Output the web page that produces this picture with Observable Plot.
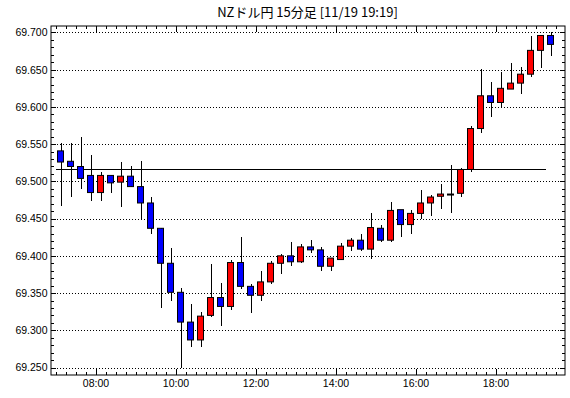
<!DOCTYPE html>
<html><head><meta charset="utf-8">
<script src="https://cdn.jsdelivr.net/npm/d3@7"></script>
<script src="https://cdn.jsdelivr.net/npm/@observablehq/plot@0.6"></script>
<style>
body{margin:0;background:#fff;}
#title{margin-left:50px;width:515px;height:20px;text-align:center;font-family:"Noto Sans CJK JP";font-size:13px;line-height:24px;color:#000;white-space:nowrap;}
#chart svg{display:block;}
</style></head><body>
<div id="title">NZドル円 15分足 [11/19 19:19]</div>
<div id="chart"></div>
<script>
const times = ["07:00","07:15","07:30","07:45","08:00","08:15","08:30","08:45","09:00","09:15",
"09:30","09:45","10:00","10:15","10:30","10:45","11:00","11:15","11:30","11:45",
"12:00","12:15","12:30","12:45","13:00","13:15","13:30","13:45","14:00","14:15",
"14:30","14:45","15:00","15:15","15:30","15:45","16:00","16:15","16:30","16:45",
"17:00","17:15","17:30","17:45","18:00","18:15","18:30","18:45","19:00","19:15"];
const open  = [69.541,69.527,69.520,69.508,69.485,69.508,69.499,69.507,69.493,69.471,
69.437,69.390,69.351,69.311,69.287,69.320,69.344,69.332,69.391,69.359,
69.347,69.365,69.390,69.400,69.392,69.412,69.408,69.386,69.395,69.413,
69.421,69.409,69.437,69.421,69.462,69.442,69.457,69.471,69.480,69.483,
69.484,69.516,69.571,69.615,69.606,69.624,69.632,69.644,69.676,69.696];
const high  = [69.551,69.552,69.560,69.535,69.512,69.509,69.526,69.521,69.527,69.479,
69.437,69.410,69.357,69.335,69.324,69.389,69.363,69.395,69.425,69.362,
69.380,69.393,69.403,69.418,69.416,69.421,69.412,69.397,69.417,69.424,
69.430,69.457,69.441,69.472,69.462,69.461,69.488,69.482,69.497,69.522,
69.518,69.575,69.651,69.633,69.647,69.659,69.654,69.695,69.696,69.701];
const low   = [69.467,69.479,69.490,69.473,69.474,69.485,69.466,69.493,69.450,69.429,
69.330,69.340,69.249,69.278,69.278,69.318,69.306,69.327,69.356,69.323,
69.339,69.362,69.376,69.387,69.391,69.404,69.380,69.379,69.394,69.407,
69.406,69.396,69.419,69.418,69.425,69.430,69.450,69.453,69.463,69.457,
69.479,69.513,69.565,69.587,69.599,69.624,69.618,69.640,69.652,69.669];
const close = [69.526,69.520,69.504,69.485,69.508,69.498,69.507,69.493,69.471,69.437,
69.390,69.351,69.311,69.287,69.319,69.344,69.332,69.391,69.359,69.347,
69.365,69.390,69.400,69.392,69.412,69.408,69.386,69.397,69.413,69.421,
69.409,69.438,69.421,69.461,69.442,69.457,69.471,69.479,69.483,69.483,
69.516,69.571,69.615,69.606,69.625,69.632,69.644,69.676,69.696,69.684];
const yTicks = [69.25,69.30,69.35,69.40,69.45,69.50,69.55,69.60,69.65,69.70];
const yLabels = ["69.250","69.300","69.350","69.400","69.450","69.500","69.550","69.600","69.650","69.700"];
const xTickTimes = ["08:00","10:00","12:00","14:00","16:00","18:00"];
const xLabels = ["08:00","10:00","12:00","14:00","16:00","18:00"];
const refLevel = 69.517;
const refFrom = "07:00", refTo = "19:15";

const day = "2019-11-19T";
const parse = s => new Date(day + s + ":00Z");
const MIN = 60000;
const data = times.map((t, i) => ({
  mid: new Date(+parse(t) + 7.5 * MIN),
  o: open[i], h: high[i], l: low[i], c: close[i]
}));
const bodies = data.filter(d => d.o !== d.c);
const dojis = data.filter(d => d.o === d.c);

const xDomain = [new Date(+parse("06:52") + 30000), new Date(+parse("19:43") + 30000)];
const yDomain = [69.2406, 69.7094];
const minorX = d3.utcMinute.every(15).range(parse("07:00"), parse("19:44"));
const majorX = xTickTimes.map(parse);
const minorY = d3.range(6925, 6971).map(v => v / 100);

const W = 570, H = 378, mt = 5.5, mb = 23.5, ml = 50.5, mr = 5.5;
const fh = H - mt - mb, fw = W - ml - mr;
const crisp = {stroke: "#000", shapeRendering: "crispEdges"};

const chart = Plot.plot({
  width: W, height: H,
  marginTop: mt, marginBottom: mb, marginLeft: ml, marginRight: mr,
  style: {fontFamily: "Liberation Sans", fontSize: "10.5px", color: "#000", background: "#fff"},
  x: {type: "utc", domain: xDomain, axis: null},
  y: {domain: yDomain, axis: null},
  marks: [
    Plot.ruleY(yTicks, {y: d => d, strokeDasharray: "1,2", ...crisp}),
    Plot.ruleY([refLevel], {y: d => d, x1: () => parse(refFrom), x2: () => parse(refTo), ...crisp}),
    Plot.ruleX(data, {x: "mid", y1: "l", y2: "h", ...crisp}),
    Plot.rect(bodies, {
      x1: d => new Date(+d.mid - 4.5 * MIN), x2: d => new Date(+d.mid + 4.5 * MIN),
      y1: "o", y2: "c",
      fill: d => d.c > d.o ? "#ff0000" : "#0000ff", stroke: "#000", strokeWidth: 1
    }),
    Plot.ruleY(dojis, {y: "o", x1: d => new Date(+d.mid - 5.25 * MIN), x2: d => new Date(+d.mid + 5.25 * MIN), stroke: "#000", strokeWidth: 2}),
    Plot.tickX(minorX, {x: d => d, insetTop: fh - 3, ...crisp}),
    Plot.tickX(minorX, {x: d => d, insetBottom: fh - 3, ...crisp}),
    Plot.tickX(majorX, {x: d => d, insetTop: fh - 6, ...crisp}),
    Plot.tickX(majorX, {x: d => d, insetBottom: fh - 6, ...crisp}),
    Plot.tickY(minorY, {y: d => d, insetRight: fw - 3, ...crisp}),
    Plot.tickY(minorY, {y: d => d, insetLeft: fw - 3, ...crisp}),
    Plot.tickY(yTicks, {y: d => d, insetRight: fw - 5, ...crisp}),
    Plot.tickY(yTicks, {y: d => d, insetLeft: fw - 5, ...crisp}),
    Plot.frame({stroke: "#000"}),
    Plot.text(majorX, {x: d => d, frameAnchor: "bottom", dy: 12, text: (d, i) => xLabels[i], fill: "#000"}),
    Plot.text(yTicks, {y: d => d, frameAnchor: "left", dx: -3.5, textAnchor: "end", text: (d, i) => yLabels[i], fill: "#000"})
  ]
});
document.getElementById("chart").appendChild(chart);
</script>
</body></html>
